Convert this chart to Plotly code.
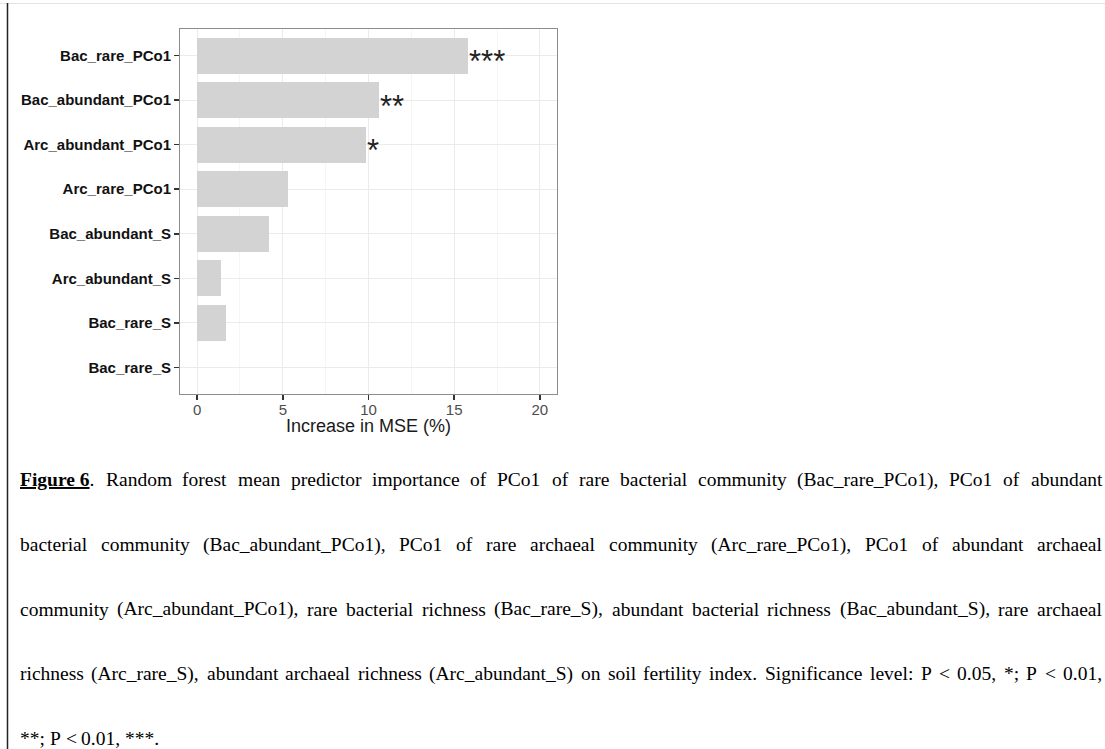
import plotly.graph_objects as go

# ---------------- data ----------------
predictors = ["Bac_rare_PCo1", "Bac_abundant_PCo1", "Arc_abundant_PCo1", "Arc_rare_PCo1",
              "Bac_abundant_S", "Arc_abundant_S", "Bac_rare_S", "Bac_rare_S"]
increase_mse = [15.82, 10.60, 9.83, 5.33, 4.19, 1.40, 1.69, 0.0]
significance = ["***", "**", "*", "", "", "", "", ""]
x_ticks = [0, 5, 10, 15, 20]
x_title = "Increase in MSE (%)"

caption_lines = [
    "<b><u>Figure 6</u></b>. Random forest mean predictor importance of PCo1 of rare bacterial community (Bac_rare_PCo1), PCo1 of abundant",
    "bacterial community (Bac_abundant_PCo1), PCo1 of rare archaeal community (Arc_rare_PCo1), PCo1 of abundant archaeal",
    "community (Arc_abundant_PCo1), rare bacterial richness (Bac_rare_S), abundant bacterial richness (Bac_abundant_S), rare archaeal",
    "richness (Arc_rare_S), abundant archaeal richness (Arc_abundant_S) on soil fertility index. Significance level: P < 0.05, *; P < 0.01,",
    "**; P < 0.01, ***.",
]

# ---------------- layout geometry (page pixels) ----------------
W, H = 1105, 749
P_LEFT, P_RIGHT, P_TOP, P_BOTTOM = 180, 557, 29, 394
ML, MT = P_LEFT, P_TOP
MR, MB = W - P_RIGHT, H - P_BOTTOM
PW, PH = W - ML - MR, H - MT - MB


def px2x(px):
    return (px - ML) / PW


def py2y(py):
    return 1 - (py - MT) / PH


positions = list(range(len(predictors)))

fig = go.Figure()
fig.add_trace(go.Bar(
    x=increase_mse, y=positions, orientation="h", width=0.8,
    marker=dict(color="#d3d3d3", line=dict(width=0)),
    hoverinfo="skip", showlegend=False,
))

annotations = []
for v, p, s in zip(increase_mse, positions, significance):
    if s:
        annotations.append(dict(
            x=v, y=p, xref="x", yref="y", text=s, showarrow=False,
            xanchor="left", yanchor="middle", xshift=-1, yshift=-6,
            font=dict(family="Liberation Sans, Arial", size=31, color="#222222"),
        ))

# axis title
annotations.append(dict(
    x=0.5, y=py2y(426), xref="paper", yref="paper", text=x_title, showarrow=False,
    xanchor="center", yanchor="middle",
    font=dict(family="Liberation Sans, Arial", size=18, color="#1a1a1a"),
))

# ---------------- caption (justified, Times metrics) ----------------
TR = {' ': 250, '!': 333, '"': 408, '#': 500, '$': 500, '%': 833, '&': 778, "'": 180,
      '(': 333, ')': 333, '*': 500, '+': 564, ',': 250, '-': 333, '.': 250, '/': 278,
      ':': 278, ';': 278, '<': 564, '=': 564, '>': 564, '?': 444, '@': 921, '_': 500,
      'A': 722, 'B': 667, 'C': 667, 'D': 722, 'E': 611, 'F': 556, 'G': 722, 'H': 722,
      'I': 333, 'J': 389, 'K': 722, 'L': 611, 'M': 889, 'N': 722, 'O': 722, 'P': 556,
      'Q': 722, 'R': 667, 'S': 556, 'T': 611, 'U': 722, 'V': 722, 'W': 944, 'X': 722,
      'Y': 722, 'Z': 611, 'a': 444, 'b': 500, 'c': 444, 'd': 500, 'e': 444, 'f': 333,
      'g': 500, 'h': 500, 'i': 278, 'j': 278, 'k': 500, 'l': 278, 'm': 778, 'n': 500,
      'o': 500, 'p': 500, 'q': 500, 'r': 333, 's': 389, 't': 278, 'u': 500, 'v': 500,
      'w': 722, 'x': 500, 'y': 500, 'z': 444}
for d in "0123456789":
    TR[d] = 500

CAP_FS = 19.5
LEFT, RIGHT = 19, 1101
line_y = [480, 544.5, 609, 673.5, 738]
FIG_TAG = "<b><u>Figure 6</u></b>"


def tokens_of(line):
    if line.startswith(FIG_TAG):
        parts = line[len(FIG_TAG):].split(" ")
        return [FIG_TAG + parts[0]] + parts[1:]
    return line.split(" ")


def width_of(tok):
    if tok.startswith(FIG_TAG):
        w = 3583 + sum(TR.get(c, 500) for c in tok[len(FIG_TAG):])
    else:
        w = sum(TR.get(c, 500) for c in tok)
    return w / 1000 * CAP_FS


for i, line in enumerate(caption_lines):
    toks = tokens_of(line)
    widths = [width_of(t) for t in toks]
    if i < len(caption_lines) - 1 and len(toks) > 1:
        gap = (RIGHT - LEFT - sum(widths)) / (len(toks) - 1)
    else:
        gap = 0.25 * CAP_FS
    x = LEFT
    for t, w in zip(toks, widths):
        annotations.append(dict(
            x=px2x(x), y=py2y(line_y[i]), xref="paper", yref="paper", text=t,
            showarrow=False, xanchor="left", yanchor="middle", borderpad=0,
            font=dict(family="Liberation Serif, Times New Roman", size=CAP_FS, color="#000000"),
        ))
        x += w + gap

shapes = [
    dict(type="line", xref="paper", yref="paper", x0=px2x(0), x1=px2x(W),
         y0=py2y(3.5), y1=py2y(3.5), line=dict(color="#e3e3e3", width=1)),
    dict(type="line", xref="paper", yref="paper", x0=px2x(7.5), x1=px2x(7.5),
         y0=py2y(3), y1=py2y(H), line=dict(color="#222222", width=1.5)),
]

fig.update_layout(
    width=W, height=H,
    margin=dict(l=ML, r=MR, t=MT, b=MB, pad=0),
    paper_bgcolor="white", plot_bgcolor="white",
    annotations=annotations, shapes=shapes,
    bargap=0,
    xaxis=dict(
        range=[-1, 21], tickvals=x_ticks, ticktext=[str(t) for t in x_ticks],
        ticks="outside", ticklen=5, tickwidth=1.5, tickcolor="#333333",
        ticklabelstandoff=-3,
        tickfont=dict(family="Liberation Sans, Arial", size=15, color="#4d4d4d"),
        showgrid=True, gridcolor="#ebebeb", gridwidth=1, zeroline=False,
        showline=True, mirror=True, linecolor="#8c8c8c", linewidth=1,
        minor=dict(dtick=2.5, tick0=0, showgrid=True, gridcolor="#f5f5f5", gridwidth=1, ticks=""),
        fixedrange=True,
    ),
    yaxis=dict(
        range=[len(predictors) - 0.4, -0.6],
        tickvals=positions, ticktext=["<b>" + p + "</b>" for p in predictors],
        ticks="outside", ticklen=5, tickwidth=1.5, tickcolor="#333333",
        tickfont=dict(family="Liberation Sans, Arial", size=15, color="#111111"),
        showgrid=True, gridcolor="#ebebeb", gridwidth=1, zeroline=False,
        showline=True, mirror=True, linecolor="#8c8c8c", linewidth=1,
        fixedrange=True,
    ),
)

fig.write_html(
    "out.html",
    config={"displayModeBar": False, "staticPlot": True},
    post_script="document.body.style.margin='0';document.documentElement.style.overflow='hidden';",
)
